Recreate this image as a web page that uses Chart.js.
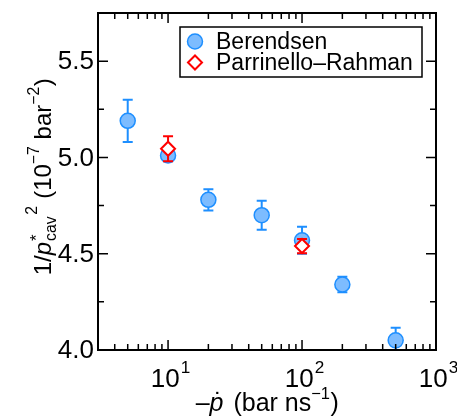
<!DOCTYPE html>
<html><head><meta charset="utf-8">
<script src="https://cdn.jsdelivr.net/npm/chart.js@4/dist/chart.umd.min.js"></script>
<style>html,body{margin:0;padding:0;background:#fff;}canvas{display:block;}</style>
</head><body>
<canvas id="c" width="457" height="420"></canvas>
<script>
// ---- data ----
const berendsenX = [5, 10, 20, 50, 100, 200, 500];
const berendsenY = [5.19, 5.01, 4.78, 4.70, 4.57, 4.34, 4.05];
const berendsenErr = [0.11, 0.03, 0.055, 0.075, 0.07, 0.04, 0.065];
const prX = [10, 100];
const prY = [5.045, 4.54];
const prErr = [0.065, 0.037];
const seriesNames = ['Berendsen', 'Parrinello\u2013Rahman'];
const yTickValues = [4.0, 4.5, 5.0, 5.5];
const yTickLabels = ['4.0', '4.5', '5.0', '5.5'];
const yMinorValues = [4.25, 4.75, 5.25];
const xTickValues = [10, 100, 1000];
const xTickExponents = ['1', '2', '3'];
const xMinorValues = [4,5,6,7,8,9,20,30,40,50,60,70,80,90,200,300,400,500,600,700,800,900];

const FONT = '"Liberation Sans", Arial, Helvetica, sans-serif';
const BLUE = '#1e8fff';
const BLUE_FILL = '#7dbcff';
const RED = '#ff0000';
const TICK_FONT = 26;
const XTITLE_FONT = 25;
const YTITLE_FONT = 24;

const errorSets = [berendsenErr, prErr];
const errColors = [BLUE, RED];

function f(size, italic) { return (italic ? 'italic ' : '') + size + 'px ' + FONT; }

function richWidth(ctx, segs, base) {
  let w = 0;
  for (const s of segs) {
    ctx.font = f(base * (s.s || 1), s.it);
    const m = ctx.measureText(s.t).width;
    if (s.noAdv) continue;
    w += m + (s.pad || 0);
  }
  return w;
}
function richDraw(ctx, segs, base, x, y) {
  let cx = x;
  for (const s of segs) {
    ctx.font = f(base * (s.s || 1), s.it);
    ctx.textAlign = 'left';
    ctx.textBaseline = 'alphabetic';
    const m = ctx.measureText(s.t).width;
    ctx.fillText(s.t, cx + (s.dx || 0) * base, y + (s.dy || 0) * base);
    if (s.dot) {
      ctx.font = f(base, false);
      ctx.textAlign = 'center';
      ctx.fillText('\u02D9', cx + m / 2 + 0.08 * base, y - 0.02 * base);
    }
    if (!s.noAdv) cx += m + (s.pad || 0);
  }
}

const errorBarPlugin = {
  id: 'errorBars',
  beforeDatasetDraw(chart, args) {
    const i = args.index;
    const ds = chart.data.datasets[i];
    const errs = errorSets[i];
    const xs = chart.scales.x, ys = chart.scales.y;
    const ctx = chart.ctx;
    const a = chart.chartArea;
    ctx.save();
    ctx.beginPath();
    ctx.rect(a.left, a.top, a.right - a.left, a.bottom - a.top);
    ctx.clip();
    ctx.strokeStyle = errColors[i];
    ctx.lineWidth = 2;
    ds.data.forEach((p, k) => {
      const px = xs.getPixelForValue(p.x);
      const y1 = ys.getPixelForValue(p.y + errs[k]);
      const y2 = ys.getPixelForValue(p.y - errs[k]);
      ctx.beginPath();
      ctx.moveTo(px, y1); ctx.lineTo(px, y2);
      ctx.moveTo(px - 5, y1); ctx.lineTo(px + 5, y1);
      ctx.moveTo(px - 5, y2); ctx.lineTo(px + 5, y2);
      ctx.stroke();
    });
    ctx.restore();
  }
};

const framePlugin = {
  id: 'frame',
  afterDraw(chart) {
    const ctx = chart.ctx;
    const a = chart.chartArea;
    const xs = chart.scales.x, ys = chart.scales.y;
    ctx.save();
    ctx.strokeStyle = '#000';
    ctx.lineWidth = 2;
    ctx.strokeRect(a.left, a.top, a.right - a.left, a.bottom - a.top);
    ctx.lineWidth = 1.5;
    ctx.beginPath();
    const majL = 10, minL = 6;
    yTickValues.forEach(v => {
      const y = ys.getPixelForValue(v);
      ctx.moveTo(a.left, y); ctx.lineTo(a.left + majL, y);
      ctx.moveTo(a.right, y); ctx.lineTo(a.right - majL, y);
    });
    yMinorValues.forEach(v => {
      const y = ys.getPixelForValue(v);
      ctx.moveTo(a.left, y); ctx.lineTo(a.left + minL, y);
      ctx.moveTo(a.right, y); ctx.lineTo(a.right - minL, y);
    });
    xTickValues.forEach(v => {
      const x = xs.getPixelForValue(v);
      ctx.moveTo(x, a.bottom); ctx.lineTo(x, a.bottom - majL);
      ctx.moveTo(x, a.top); ctx.lineTo(x, a.top + majL);
    });
    xMinorValues.forEach(v => {
      const x = xs.getPixelForValue(v);
      ctx.moveTo(x, a.bottom); ctx.lineTo(x, a.bottom - minL);
      ctx.moveTo(x, a.top); ctx.lineTo(x, a.top + minL);
    });
    ctx.stroke();

    // tick labels
    ctx.fillStyle = '#000';
    ctx.font = f(TICK_FONT);
    ctx.textAlign = 'right';
    ctx.textBaseline = 'middle';
    yTickValues.forEach((v, k) => {
      ctx.fillText(yTickLabels[k], a.left - 4, ys.getPixelForValue(v) + 1);
    });
    xTickValues.forEach((v, k) => {
      const segs = [{t: '10'}, {t: xTickExponents[k], s: 0.66, dy: -0.55, dx: 0.04}];
      const w = richWidth(ctx, segs, TICK_FONT);
      richDraw(ctx, segs, TICK_FONT, xs.getPixelForValue(v) - w / 2 + 2, 387);
    });

    // x title
    const xt = [{t: '\u2013'}, {t: 'p', it: true, dot: true, pad: 3}, {t: ' (bar ns'}, {t: '\u22121', s: 0.66, dy: -0.5}, {t: ')', dx: 0.02}];
    const xw = richWidth(ctx, xt, XTITLE_FONT);
    richDraw(ctx, xt, XTITLE_FONT, (a.left + a.right) / 2 - xw / 2, 411);

    // y title
    const yt = [{t: '1/'}, {t: 'p', it: true, pad: 1}, {t: '*', s: 0.7, dy: -0.38, noAdv: true}, {t: 'cav', s: 0.66, dy: 0.2},
                {t: '2', s: 0.66, dy: -0.6, dx: 0.06, pad: 2}, {t: ' (10'}, {t: '\u22127', s: 0.66, dy: -0.5}, {t: ' bar'}, {t: '\u22122', s: 0.66, dy: -0.5}, {t: ')', dx: 0.02}];
    const yw = richWidth(ctx, yt, YTITLE_FONT);
    ctx.save();
    ctx.translate(51, 177);
    ctx.rotate(-Math.PI / 2);
    richDraw(ctx, yt, YTITLE_FONT, -yw / 2, 0);
    ctx.restore();

    // legend
    ctx.fillStyle = '#fff';
    ctx.fillRect(180, 27, 242, 50);
    ctx.strokeStyle = '#000';
    ctx.lineWidth = 1.5;
    ctx.strokeRect(180, 27, 242, 50);
    const dsets = chart.data.datasets;
    const rows = [41.5, 62.5];
    dsets.forEach((ds, k) => {
      ctx.save();
      ctx.fillStyle = ds.pointBackgroundColor;
      ctx.strokeStyle = ds.pointBorderColor;
      ctx.lineWidth = ds.pointBorderWidth;
      Chart.helpers.drawPoint(ctx, {pointStyle: ds.pointStyle, radius: ds.pointRadius, rotation: 0, borderWidth: ds.pointBorderWidth}, 195, rows[k]);
      ctx.restore();
      ctx.fillStyle = '#000';
      ctx.font = f(23);
      ctx.textAlign = 'left';
      ctx.textBaseline = 'middle';
      ctx.fillText(seriesNames[k], 216, rows[k] + 1);
    });
    ctx.restore();
  }
};

new Chart(document.getElementById('c'), {
  type: 'scatter',
  data: {
    datasets: [
      {
        label: seriesNames[0],
        data: berendsenX.map((x, i) => ({x, y: berendsenY[i]})),
        order: 2,
        pointStyle: 'circle',
        pointRadius: 7.5,
        pointHoverRadius: 7.5,
        pointBackgroundColor: BLUE_FILL,
        pointBorderColor: BLUE,
        pointBorderWidth: 1.5,
        showLine: false
      },
      {
        label: seriesNames[1],
        data: prX.map((x, i) => ({x, y: prY[i]})),
        order: 1,
        pointStyle: 'rectRot',
        pointRadius: 7,
        pointHoverRadius: 7,
        pointBackgroundColor: '#ffffff',
        pointBorderColor: RED,
        pointBorderWidth: 2,
        showLine: false
      }
    ]
  },
  options: {
    responsive: false,
    animation: false,
    devicePixelRatio: 1,
    events: [],
    layout: {padding: {left: 98, right: 21, top: 13, bottom: 70}},
    plugins: {legend: {display: false}, tooltip: {enabled: false}},
    scales: {
      x: {type: 'logarithmic', min: 3, max: 1000, display: false},
      y: {type: 'linear', min: 4.0, max: 5.75, display: false}
    }
  },
  plugins: [errorBarPlugin, framePlugin]
});
</script>
</body></html>
